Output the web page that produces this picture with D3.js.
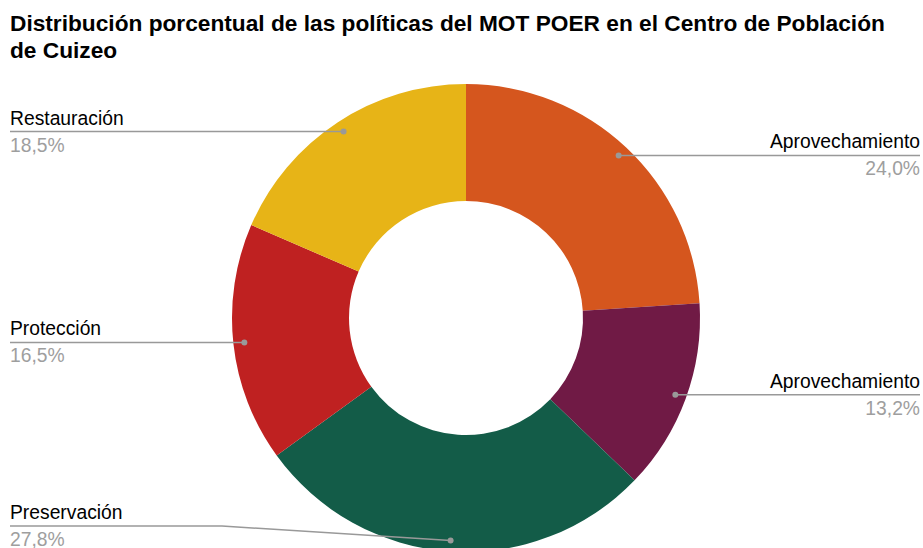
<!DOCTYPE html>
<html>
<head>
<meta charset="utf-8">
<script src="https://cdn.jsdelivr.net/npm/d3@7"></script>
<style>
  body { margin: 0; background: #fff; }
  #chart { width: 923px; height: 548px; }
  text { font-family: "Liberation Sans", Arial, sans-serif; }
</style>
</head>
<body>
<div id="chart"></div>
<script>
var titleLines = ["Distribución porcentual de las políticas del MOT POER en el Centro de Población", "de Cuizeo"];
var categories = ["Aprovechamiento", "Aprovechamiento", "Preservación", "Protección", "Restauración"];
var values = [24.0, 13.2, 27.8, 16.5, 18.5];
var colors = ["#D5561E", "#701A45", "#135C48", "#BF2121", "#E7B417"];

var width = 923, height = 548;
var cx = 466, cy = 318;
var outerR = 234, innerR = 117;

var svg = d3.select("#chart")
    .append("svg")
    .attr("width", width)
    .attr("height", height);

// title
svg.append("text")
    .attr("x", 10)
    .attr("y", 31)
    .attr("font-size", 22.7)
    .attr("font-weight", "bold")
    .attr("fill", "#000")
    .selectAll("tspan")
    .data(titleLines)
    .enter()
    .append("tspan")
    .attr("x", 10)
    .attr("dy", function(d, i) { return i === 0 ? 0 : 27; })
    .text(function(d) { return d; });

var data = categories.map(function(c, i) {
    return { name: c, value: values[i], color: colors[i] };
});

var pie = d3.pie()
    .sort(null)
    .value(function(d) { return d.value; });

var arc = d3.arc()
    .innerRadius(innerR)
    .outerRadius(outerR);

var g = svg.append("g")
    .attr("transform", "translate(" + cx + "," + cy + ")");

var arcs = pie(data);

g.selectAll("path")
    .data(arcs)
    .enter()
    .append("path")
    .attr("d", arc)
    .attr("fill", function(d) { return d.data.color; });

// leader lines + labels
var dotR = outerR * 0.953;
var fmt = function(v) { return d3.format(".1f")(v).replace(".", ",") + "%"; };

arcs.forEach(function(d) {
    var mid = (d.startAngle + d.endAngle) / 2;
    var px = cx + Math.sin(mid) * dotR;
    var py = cy - Math.cos(mid) * dotR;
    var right = Math.sin(mid) > 0;
    var ly = Math.min(py, height - 22);
    var endX = right ? 920 : 10;

    var pts = [[px, py]];
    if (ly !== py) {
        pts.push([right ? cx + outerR + 10 : cx - outerR - 10, ly]);
    }
    pts.push([endX, ly]);

    svg.append("path")
        .attr("d", d3.line()(pts))
        .attr("fill", "none")
        .attr("stroke", "#999")
        .attr("stroke-width", 1.5);

    svg.append("circle")
        .attr("cx", px)
        .attr("cy", py)
        .attr("r", 3)
        .attr("fill", "#999");

    svg.append("text")
        .attr("x", endX)
        .attr("y", ly - 7)
        .attr("text-anchor", right ? "end" : "start")
        .attr("font-size", 19.3)
        .attr("fill", "#000")
        .text(d.data.name);

    svg.append("text")
        .attr("x", endX)
        .attr("y", ly + 20)
        .attr("text-anchor", right ? "end" : "start")
        .attr("font-size", 19.3)
        .attr("fill", "#9e9e9e")
        .text(fmt(d.data.value));
});
</script>
</body>
</html>
